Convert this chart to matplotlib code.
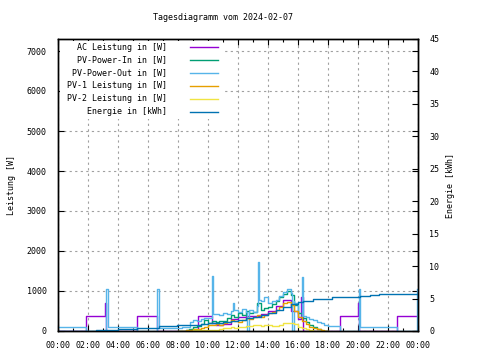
import matplotlib
matplotlib.use('Agg')
import matplotlib.pyplot as plt
from matplotlib.patches import Rectangle
from matplotlib.ticker import MultipleLocator

plt.rcParams['font.family'] = 'DejaVu Sans Mono'
plt.rcParams['font.size'] = 6

# --- data (time in hours of the day) ---
t_day = [8.0, 8.25, 8.5, 8.75, 9.0, 9.25, 9.5, 9.75, 10.0, 10.25, 10.5, 10.75,
         11.0, 11.25, 11.5, 11.75, 12.0, 12.25, 12.5, 12.75, 13.0, 13.25, 13.5,
         13.75, 14.0, 14.25, 14.5, 14.75, 15.0, 15.25, 15.5, 15.75, 16.0, 16.25,
         16.5, 16.75, 17.0, 17.25, 17.5, 17.75, 18.0]

pv_in_w = [0, 10, 30, 60, 90, 120, 180, 270, 210, 240, 220, 260,
           240, 330, 400, 360, 450, 410, 500, 440, 480, 700, 520,
           580, 610, 680, 760, 850, 930, 990, 900, 640, 440, 330,
           230, 150, 90, 40, 10, 0, 0]

pv1_w = [0, 5, 15, 25, 40, 55, 65, 110, 150, 140, 175, 160,
         190, 220, 275, 240, 230, 280, 315, 290, 360, 400, 360,
         400, 440, 470, 525, 600, 690, 730, 660, 500, 360, 260,
         175, 110, 65, 40, 25, 10, 0]

pv2_w = [0, 0, 5, 10, 15, 20, 20, 25, 25, 20, 25, 45,
         65, 80, 90, 85, 100, 110, 125, 120, 150, 150, 125,
         140, 150, 135, 125, 160, 190, 210, 200, 180, 90, 70,
         50, 30, 10, 5, 0, 0, 0]

pv_out_t = [0.0, 1.87, 3.22, 3.3, 5.25, 6.62, 6.7, 8.0, 8.25, 8.5, 8.8, 9.0,
            9.25, 9.5, 9.75, 10.0, 10.27, 10.35, 10.5, 10.75, 11.0, 11.25,
            11.5, 11.68, 11.75, 12.0, 12.25, 12.5, 12.63, 12.7, 12.75, 13.0,
            13.25, 13.3, 13.38, 13.5, 13.75, 14.0, 14.25, 14.5, 14.75, 15.0,
            15.25, 15.5, 15.63, 15.7, 15.75, 16.0, 16.28, 16.36, 16.5, 16.75,
            17.0, 17.25, 17.5, 17.75, 18.0, 18.8, 20.05, 20.13, 22.6, 23.93]
pv_out_w = [110, 0, 1050, 110, 0, 1050, 75, 75, 110, 100, 230, 270,
            250, 300, 320, 330, 1375, 420, 430, 400, 460, 420,
            500, 700, 520, 480, 560, 470, 0, 500, 520, 470,
            620, 1730, 780, 760, 860, 700, 740, 780, 880, 980,
            1040, 950, 0, 760, 700, 360, 1350, 380, 360, 300,
            275, 230, 200, 160, 125, 0, 1050, 110, 0, 1050]

ac_t = [0.0, 1.87, 3.13, 3.2, 5.25, 6.6, 9.35, 10.27, 10.5, 11.0, 11.5, 12.0,
        12.5, 13.0, 13.5, 14.0, 14.5, 15.0, 15.5, 16.0, 16.22, 16.3, 18.8,
        20.0, 20.06, 22.6, 24.0]
ac_w = [0, 375, 700, 0, 375, 0, 375, 200, 150, 180, 300, 350,
        380, 380, 420, 500, 620, 780, 500, 300, 850, 0, 375,
        700, 0, 375, 375]

energy_t = [0.0, 1.2, 2.5, 4.0, 5.25, 6.7, 7.9, 8.5, 9.0, 9.5, 10.0, 10.5, 11.0,
            11.5, 12.0, 12.5, 13.0, 13.5, 14.0, 14.5, 15.0, 15.5, 16.0, 16.3,
            17.0, 17.7, 18.25, 20.1, 20.8, 21.4, 24.0]
energy_kwh = [0.0, 0.05, 0.15, 0.3, 0.5, 0.7, 0.9, 0.95, 1.0, 1.1, 1.2, 1.3, 1.45,
              1.55, 1.7, 1.95, 2.2, 2.45, 2.7, 3.2, 3.7, 4.2, 4.5, 4.65,
              4.9, 5.0, 5.2, 5.4, 5.55, 5.7, 5.7]

x_labels = ['00:00', '02:00', '04:00', '06:00', '08:00', '10:00', '12:00',
            '14:00', '16:00', '18:00', '20:00', '22:00', '00:00']

legend_names = ['AC Leistung in [W]', 'PV-Power-In in [W]', 'PV-Power-Out in [W]',
                'PV-1 Leistung in [W]', 'PV-2 Leistung in [W]', 'Energie in [kWh]']
colors = ['#9400d3', '#009e73', '#56b4e9', '#e69f00', '#f0e442', '#0072b2']

# --- figure ---
fig = plt.figure(figsize=(4.8, 3.6), dpi=100)
ax = fig.add_axes([58 / 480, 29 / 360, 360 / 480, 292 / 360])
ax2 = ax.twinx()

lw = 1.0
ax.plot(ac_t, ac_w, drawstyle='steps-post', color=colors[0], lw=lw)
ax.plot(t_day, pv_in_w, drawstyle='steps-post', color=colors[1], lw=lw)
ax.plot(pv_out_t, pv_out_w, drawstyle='steps-post', color=colors[2], lw=lw)
ax.plot(t_day, pv1_w, drawstyle='steps-post', color=colors[3], lw=lw)
ax.plot(t_day, pv2_w, drawstyle='steps-post', color=colors[4], lw=lw)
ax2.plot(energy_t, energy_kwh, drawstyle='steps-post', color=colors[5], lw=lw)

ax.set_xlim(0, 24)
ax.set_ylim(0, 7300)
ax2.set_ylim(0, 45)
ax.set_xticks(range(0, 25, 2))
ax.set_xticklabels(x_labels)
ax.xaxis.set_minor_locator(MultipleLocator(1))
ax.set_yticks(range(0, 7001, 1000))
ax2.set_yticks(range(0, 46, 5))

ax.tick_params(axis='both', which='major', direction='in', length=4, width=0.8,
               top=True, right=True, pad=8)
ax.tick_params(axis='x', which='minor', direction='in', length=2, width=0.8, top=True)
ax.tick_params(axis='x', pad=7)
ax2.tick_params(axis='y', direction='in', length=4, width=0.8, pad=8)
for a in (ax, ax2):
    for s in a.spines.values():
        s.set_linewidth(1.0)

ax.grid(True, which='major', color='#a0a0a0', linestyle=(0, (2, 3)), linewidth=0.8)

ax.set_ylabel('Leistung [W]')
ax2.set_ylabel('Energie [kWh]')
ax.yaxis.set_label_coords(-42 / 360, 0.5)
ax2.yaxis.set_label_coords(1 + 28 / 360, 0.5)

fig.text(223 / 480, 1 - 18 / 360, 'Tagesdiagramm vom 2024-02-07', ha='center', va='center')

# opaque key box in the upper left, kept just inside the frame
ax2.add_patch(Rectangle((1.5 / 360, 1 - 80 / 292), 163.5 / 360, 78.5 / 292,
                        transform=ax2.transAxes, facecolor='white', edgecolor='none',
                        zorder=1.9))
for i, (name, c) in enumerate(zip(legend_names, colors)):
    yk = 1 - (8 + 13 * i) / 292
    ax2.text(109 / 360, yk, name, transform=ax2.transAxes, ha='right', va='center',
             zorder=3)
    ax2.plot([132 / 360, 160 / 360], [yk, yk], transform=ax2.transAxes, color=c,
             lw=lw, zorder=3, clip_on=False)

fig.savefig('out.png', dpi=100)
